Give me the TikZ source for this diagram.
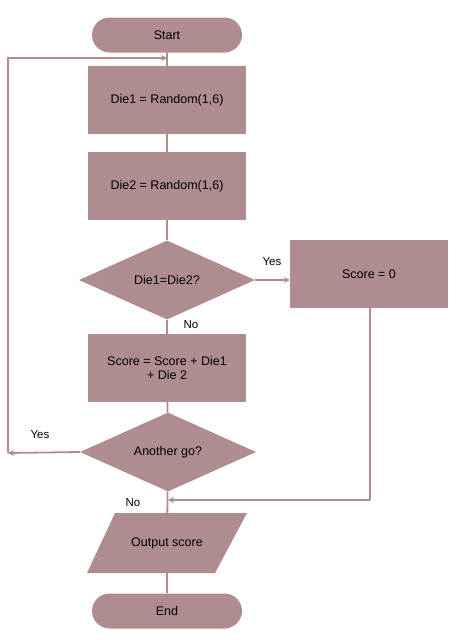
\documentclass[tikz,border=0pt]{standalone}
\usepackage{fontspec}
\setmainfont{Liberation Sans}
\usetikzlibrary{shapes.geometric,shapes.misc,arrows.meta}
\definecolor{fc}{HTML}{AE8C8F}
\begin{document}
\begin{tikzpicture}[x=1pt,y=-1pt,
  every node/.style={font=\fontsize{12.5}{14.5}\selectfont},
  base/.style={fill=fc,draw=none,inner sep=0pt,align=center},
  term/.style={base,rounded rectangle,minimum width=150pt,minimum height=35pt},
  proc/.style={base,rectangle,minimum width=158pt,minimum height=68pt},
  dec/.style={base,diamond,aspect=2.2,minimum width=176pt,minimum height=79pt},
  conn/.style={draw=fc,line width=1.8pt},
  arr/.style={conn,-{Stealth[length=6pt,width=6pt]}},
  lbl/.style={font=\fontsize{11.5}{13}\selectfont}]
\useasboundingbox (0,0) rectangle (463,640);
\fill[fc] (115,513) -- (247,513) -- (215,573) -- (87,573) -- cycle;
\node[term] (start) at (167,35) {Start};
\node[proc] (d1) at (167,100) {Die1 = Random(1,6)};
\node[proc] (d2) at (167,186) {Die2 = Random(1,6)};
\node[dec] (q1) at (167,280) {Die1=Die2?};
\node[proc] (s0) at (369,274) {Score = 0};
\node[proc] (sc) at (167,368) {Score = Score + Die1\\+ Die 2};
\node[dec] (q2) at (168,452) {Another go?};
\node[inner sep=0pt,minimum width=100pt,minimum height=60pt] (out) at (167,543) {Output score};
\node[term] (end) at (167,611) {End};
\coordinate (lb) at (8,453);
\coordinate (lt) at (167,58);
\coordinate (rb) at (370,500);
\coordinate (mj) at (168,500);
\draw[conn] (start) -- (d1);
\draw[conn] (d1) -- (d2);
\draw[conn] (d2) -- (q1);
\draw[conn] (q1) -- (sc);
\draw[conn] (sc) -- (q2);
\draw[conn] (q2) -- (out);
\draw[conn] (out) -- (end);
\draw[arr] (q1.east) -- (s0.west |- q1.east);
\draw[arr] (q2.west) -- (lb);
\draw[arr] (lb) |- (lt);
\draw[conn] (s0.south -| rb) -- (rb);
\draw[arr] (rb) -- (mj);
\node[lbl] (yes1) at (272,262) {Yes};
\node[lbl] (no1) at (191,325) {No};
\node[lbl] (yes2) at (40,435) {Yes};
\node[lbl] (no2) at (133,503) {No};
\end{tikzpicture}
\end{document}
